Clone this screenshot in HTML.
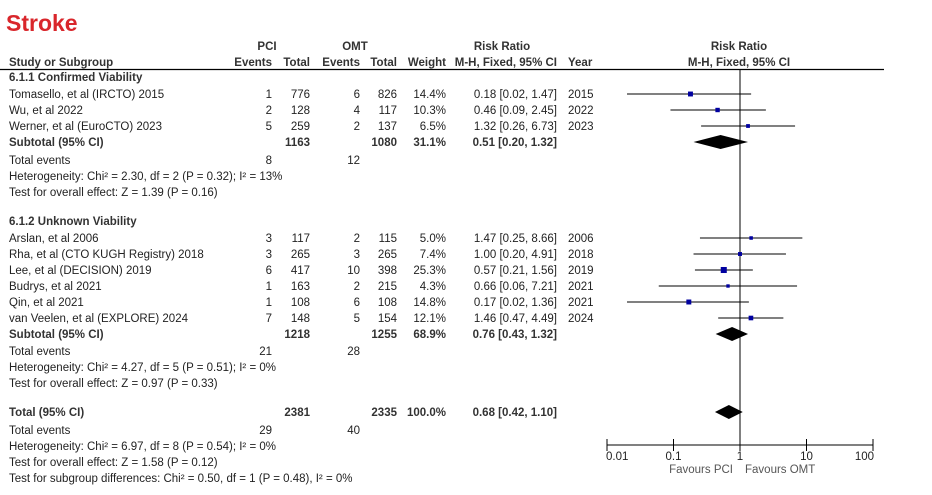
<!DOCTYPE html>
<html><head><meta charset="utf-8"><style>
body{margin:0;background:#fff;width:932px;height:490px;overflow:hidden}
svg text{font-family:"Liberation Sans",Arial,sans-serif;font-size:11.5px;fill:#222}
.b{font-weight:bold;fill:#333}
</style></head><body>
<svg id="plot" width="932" height="490" xmlns="http://www.w3.org/2000/svg">
<text x="6" y="31" style="font-size:23px;font-weight:bold;fill:#d9262b">Stroke</text>
<g id="hdr" class="b">
<text x="267" y="50" class="b" text-anchor="middle">PCI</text>
<text x="355" y="50" class="b" text-anchor="middle">OMT</text>
<text x="502" y="50" class="b" text-anchor="middle">Risk Ratio</text>
<text x="739" y="50" class="b" text-anchor="middle">Risk Ratio</text>
<text x="9" y="66" class="b">Study or Subgroup</text>
<text x="272" y="66" class="b" text-anchor="end">Events</text>
<text x="310" y="66" class="b" text-anchor="end">Total</text>
<text x="360" y="66" class="b" text-anchor="end">Events</text>
<text x="397" y="66" class="b" text-anchor="end">Total</text>
<text x="446" y="66" class="b" text-anchor="end">Weight</text>
<text x="557" y="66" class="b" text-anchor="end">M-H, Fixed, 95% CI</text>
<text x="568" y="66" class="b">Year</text>
<text x="739" y="66" class="b" text-anchor="middle">M-H, Fixed, 95% CI</text>
</g>
<line x1="0" y1="69.5" x2="884" y2="69.5" stroke="#000" stroke-width="1.2"/>
<g id="rows"></g>
<g id="axis"></g>
</svg>
<script>
const studyNames=["Tomasello, et al (IRCTO) 2015","Wu, et al 2022","Werner, et al (EuroCTO) 2023","Arslan, et al 2006","Rha, et al (CTO KUGH Registry) 2018","Lee, et al (DECISION) 2019","Budrys, et al 2021","Qin, et al 2021","van Veelen, et al (EXPLORE) 2024"];
const pciEvents=[1,2,5,3,3,6,1,1,7];
const pciTotal=[776,128,259,117,265,417,163,108,148];
const omtEvents=[6,4,2,2,3,10,2,6,5];
const omtTotal=[826,117,137,115,265,398,215,108,154];
const weights=[14.4,10.3,6.5,5.0,7.4,25.3,4.3,14.8,12.1];
const rr=[0.18,0.46,1.32,1.47,1.00,0.57,0.66,0.17,1.46];
const lo=[0.02,0.09,0.26,0.25,0.20,0.21,0.06,0.02,0.47];
const hi=[1.47,2.45,6.73,8.66,4.91,1.56,7.21,1.36,4.49];
const years=[2015,2022,2023,2006,2018,2019,2021,2021,2024];
const subNames=["Subtotal (95% CI)","Subtotal (95% CI)","Total (95% CI)"];
const subPciTotal=[1163,1218,2381];
const subOmtTotal=[1080,1255,2335];
const subWeight=["31.1%","68.9%","100.0%"];
const subRR=[0.51,0.76,0.68];
const subLo=[0.20,0.43,0.42];
const subHi=[1.32,1.32,1.10];
const subPciEvents=[8,21,29];
const subOmtEvents=[12,28,40];
const hetText=["Heterogeneity: Chi² = 2.30, df = 2 (P = 0.32); I² = 13%","Heterogeneity: Chi² = 4.27, df = 5 (P = 0.51); I² = 0%","Heterogeneity: Chi² = 6.97, df = 8 (P = 0.54); I² = 0%"];
const effText=["Test for overall effect: Z = 1.39 (P = 0.16)","Test for overall effect: Z = 0.97 (P = 0.33)","Test for overall effect: Z = 1.58 (P = 0.12)"];
const tickLabels=["0.01","0.1","1","10","100"];
const tickValues=[0.01,0.1,1,10,100];

const NS="http://www.w3.org/2000/svg";
const X0=607,X1=873;
function xs(v){return X0+(Math.log10(v)+2)/4*(X1-X0);}
const rows=document.getElementById('rows');
function el(tag,attrs,parent){const e=document.createElementNS(NS,tag);for(const k in attrs)e.setAttribute(k,attrs[k]);(parent||rows).appendChild(e);return e;}
function txt(x,y,s,anchor,bold,parent){const t=el('text',{x:x,y:y,'text-anchor':anchor||'start'},parent);if(bold)t.setAttribute('class','b');t.textContent=s;return t;}
const fmt=v=>v.toFixed(2);
const studyY=[94,110,126,238,254,270,286,302,318];
const subY=[142,334,412];
const evY=[160,351,430];
const hetY=[176,367,446];
const effY=[192,383,462];
let g=txt(9,81,"6.1.1 Confirmed Viability","start",true);


g=txt(9,225,"6.1.2 Unknown Viability","start",true);


const vl=el('line',{x1:xs(1),y1:69,x2:xs(1),y2:445,stroke:'#000','stroke-width':1});


studyNames.forEach((n,i)=>{
  const y=studyY[i],b=y+4;
  const r=el('g',{});
  
  
  txt(9,b,n,'start',false,r);
  txt(272,b,pciEvents[i],'end',false,r);
  txt(310,b,pciTotal[i],'end',false,r);
  txt(360,b,omtEvents[i],'end',false,r);
  txt(397,b,omtTotal[i],'end',false,r);
  txt(446,b,weights[i].toFixed(1)+'%','end',false,r);
  txt(557,b,fmt(rr[i])+' ['+fmt(lo[i])+', '+fmt(hi[i])+']','end',false,r);
  txt(568,b,years[i],'start',false,r);
  const ci=el('line',{x1:xs(lo[i]),y1:y,x2:xs(hi[i]),y2:y,stroke:'#000','stroke-width':1},r);
  
  
  const s=1.5+Math.sqrt(weights[i])*0.9;
  const sq=el('rect',{x:xs(rr[i])-s/2,y:y-s/2,width:s,height:s,fill:'#0000a0'},r);
  
  
});
subNames.forEach((n,i)=>{
  const y=subY[i],b=y+4;
  const r=el('g',{});
  
  
  txt(9,b,n,'start',true,r);
  txt(310,b,subPciTotal[i],'end',true,r);
  txt(397,b,subOmtTotal[i],'end',true,r);
  txt(446,b,subWeight[i],'end',true,r);
  txt(557,b,fmt(subRR[i])+' ['+fmt(subLo[i])+', '+fmt(subHi[i])+']','end',true,r);
  const dy=7;
  const d=el('polygon',{points:`${xs(subLo[i])},${y} ${xs(subRR[i])},${y-dy} ${xs(subHi[i])},${y} ${xs(subRR[i])},${y+dy}`,fill:'#000'},r);
  
  
  const e=el('g',{});
  
  
  txt(9,evY[i]+4,'Total events','start',false,e);
  txt(272,evY[i]+4,subPciEvents[i],'end',false,e);
  txt(360,evY[i]+4,subOmtEvents[i],'end',false,e);
  let h=txt(9,hetY[i]+4,hetText[i]);
  
  
  h=txt(9,effY[i]+4,effText[i]);
  
  
});
let sd=txt(9,482,"Test for subgroup differences: Chi² = 0.50, df = 1 (P = 0.48), I² = 0%");


const ax=document.getElementById('axis');


el('line',{x1:X0,y1:445,x2:X1,y2:445,stroke:'#000','stroke-width':1},ax);
tickValues.forEach((v,i)=>{
  const t=el('line',{x1:xs(v),y1:439,x2:xs(v),y2:451,stroke:'#000','stroke-width':1},ax);
  
  
  const l=txt(xs(v),460,tickLabels[i],i==0?'start':(i==4?'end':'middle'),false,ax);
  if(i==0)l.setAttribute('x',xs(v)-1);
  if(i==4)l.setAttribute('x',xs(v)+1);
  
  
});
let f=txt(733,473,'Favours PCI','end',false,ax);


f.setAttribute('style','fill:#555');
f=txt(745,473,'Favours OMT','start',false,ax);


f.setAttribute('style','fill:#555');
</script>
</body></html>
